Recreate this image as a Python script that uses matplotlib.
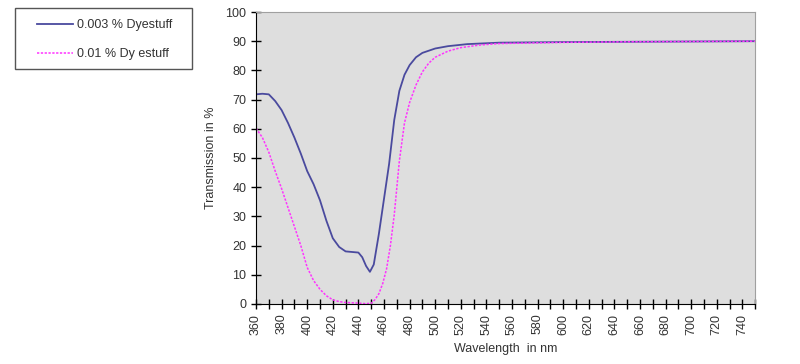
import numpy as np
import matplotlib.pyplot as plt
from matplotlib.patches import Rectangle

plt.rcParams["font.family"] = ["Liberation Sans", "DejaVu Sans"]

# 0.003 % Dyestuff
wl_a = [360, 365, 370, 375, 380, 385, 390, 395, 400, 405, 410, 415, 420, 425, 430,
        435, 440, 443, 446, 449, 452, 456, 460, 464, 468, 472, 476, 480, 485, 490,
        500, 510, 525, 550, 600, 650, 700, 750]
tr_a = [71.8, 72.0, 71.8, 69.5, 66.4, 62.0, 57.0, 51.5, 45.5, 41.0, 35.5, 28.5, 22.5, 19.5, 18.0,
        17.8, 17.6, 16.0, 13.0, 11.0, 13.5, 24.0, 36.0, 48.0, 63.0, 73.0, 78.5, 81.8, 84.5, 86.0,
        87.5, 88.3, 89.0, 89.5, 89.7, 89.8, 89.9, 90.0]

# 0.01 % Dyestuff
wl_b = [360, 365, 370, 375, 380, 385, 390, 395, 400, 405, 410, 415, 420, 425, 430,
        435, 440, 445, 450, 453, 456, 459, 462, 465, 468, 472, 476, 480, 485, 490,
        495, 500, 510, 520, 535, 550, 600, 650, 700, 750]
tr_b = [60.2, 57.0, 52.0, 45.5, 39.5, 33.0, 26.5, 20.0, 12.5, 8.0, 5.0, 2.8, 1.4, 0.8, 0.5,
        0.4, 0.3, 0.1, 0.2, 1.5, 3.5, 7.0, 12.0, 20.0, 30.5, 49.0, 62.0, 69.0, 75.0, 79.5,
        82.5, 84.5, 86.6, 87.8, 88.7, 89.2, 89.6, 89.8, 89.9, 90.0]

W, H = 800, 364
fig = plt.figure(figsize=(W / 100, H / 100), dpi=100)
ax = fig.add_axes([0.32, 0.165, 0.624, 0.802])
ax.set_facecolor("#DEDEDE")

l1, = ax.plot(wl_a, tr_a, color="#4A4A9E", lw=1.3, label="0.003 % Dyestuff")
l2, = ax.plot(wl_b, tr_b, color="#FF33FF", lw=1.1, ls=(0, (1.5, 1)), label="0.01 % Dy estuff")

ax.set_xlim(360, 750)
ax.set_ylim(0, 100)
ax.set_xticks(np.arange(360, 741, 20))
ax.set_xticks(np.arange(370, 751, 20), minor=True)
ax.set_yticks(np.arange(0, 101, 10))
ax.tick_params(axis="x", which="both", direction="inout", length=7, width=1,
               labelrotation=90, labelsize=9, labelcolor="#333333")
ax.tick_params(axis="y", direction="inout", length=7, width=1, labelsize=9, labelcolor="#333333")

for s in ["top", "right"]:
    ax.spines[s].set_color("#A0A0A0")
for s in ["left", "bottom"]:
    ax.spines[s].set_color("black")

ax.set_xlabel("Wavelength  in nm", fontsize=9, labelpad=6, color="#333333")
ax.set_ylabel("Transmission in %", fontsize=9, labelpad=6, color="#333333")

# legend box drawn separately, entries placed inside
fig.patches.append(Rectangle((15 / W, 1 - 69 / H), 177 / W, 61 / H, transform=fig.transFigure,
                             facecolor="white", edgecolor="#555555", lw=1.0))
leg = fig.legend(handles=[l1, l2], loc="upper left", bbox_to_anchor=(37 / W, 1 - 19 / H),
                 fontsize=9, frameon=False, handlelength=2.9, handletextpad=0.3,
                 borderpad=0, labelspacing=1.4, borderaxespad=0, labelcolor="#333333")

fig.savefig("out.png", dpi=100)
